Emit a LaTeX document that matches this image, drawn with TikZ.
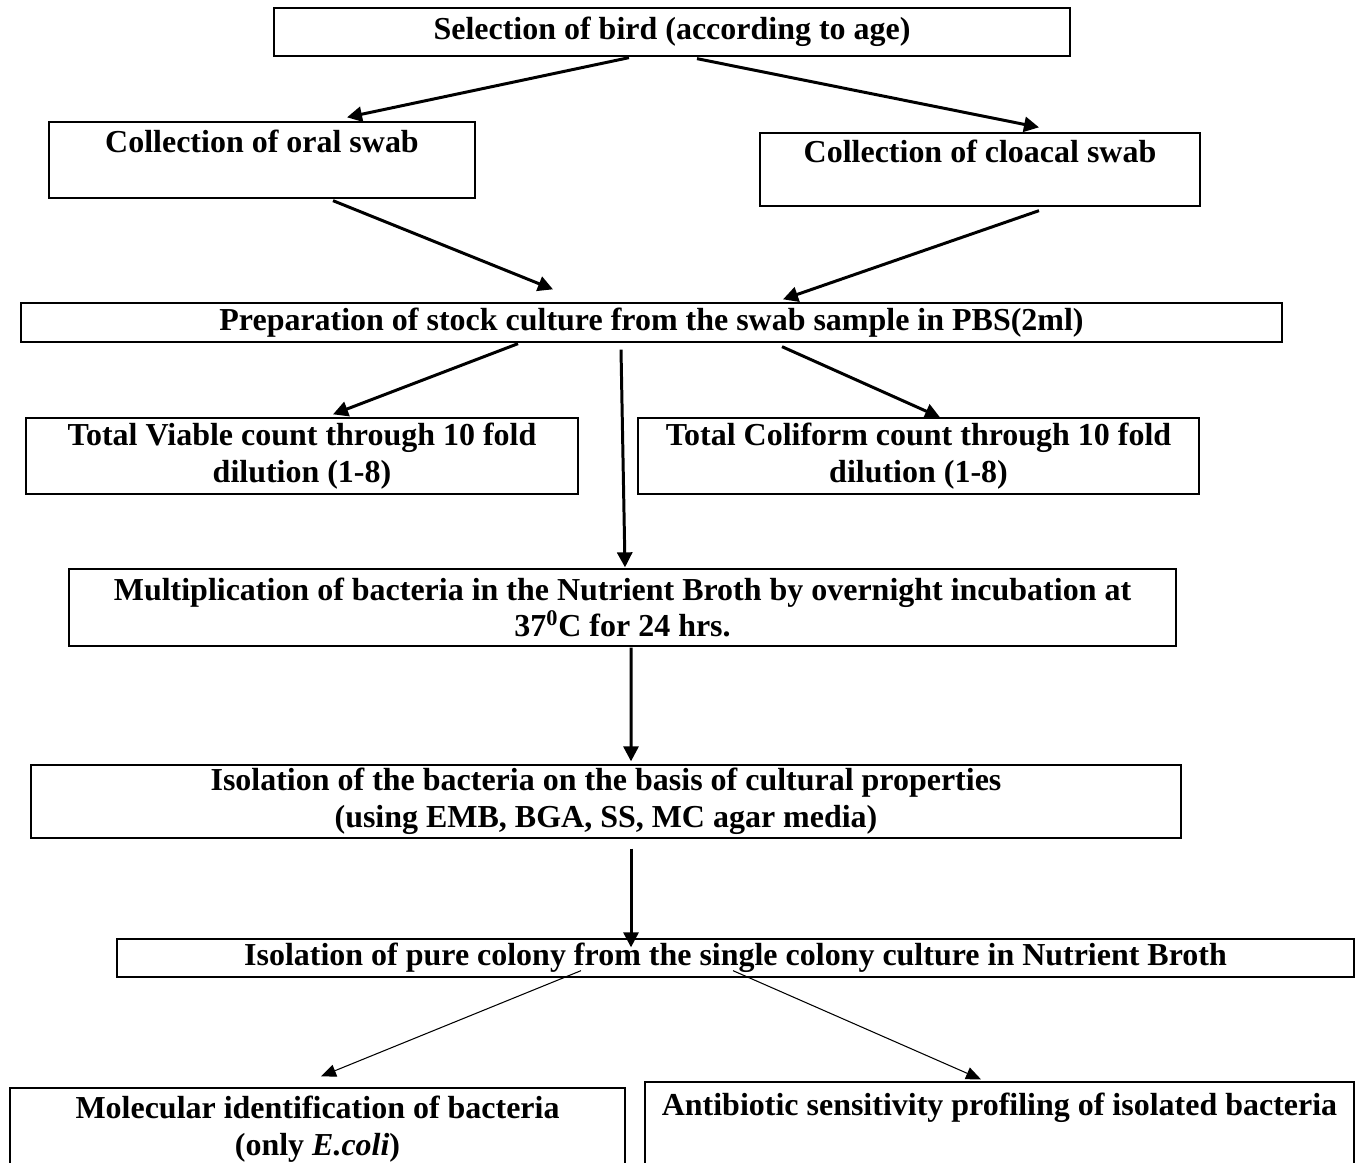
\documentclass[tikz,border=0pt]{standalone}
\usepackage{fontspec}
\setmainfont{Liberation Serif}
\usetikzlibrary{arrows.meta,calc}

\begin{document}
\begin{tikzpicture}[
		x=0.02cm, y=-0.02cm,
		% Estilo de las cajas: borde fino, texto en negrita centrado
		myBox/.style={draw, line width=0.75pt, inner sep=0pt, align=center,
			font=\fontsize{18.2}{21}\selectfont\bfseries},
		% Flechas gruesas y finas con punta triangular
		myArrow/.style={line width=1.7pt, -{Triangle[length=0.3cm, width=0.3cm]}},
		myThinArrow/.style={line width=0.6pt, -{Triangle[length=0.3cm, width=0.25cm]}}
	]

	% Marco fijo del dibujo (las cajas de abajo quedan cortadas)
	\useasboundingbox (0,0) rectangle (1361,1162);

	% --- 1. Cajas ---
	% Coordenadas en pixeles de la figura original (y hacia abajo)

	\node[myBox, minimum width=15.92cm, minimum height=0.96cm] (Sel) at (672,32) {Selection of bird (according to age)};

	\node[myBox, minimum width=8.52cm, minimum height=1.52cm] (Oral) at (262,160) {Collection of oral swab\\~};
	\node[myBox, minimum width=8.8cm, minimum height=1.46cm] (Cloacal) at (980,169.5) {Collection of cloacal swab\\~};

	\node[myBox, minimum width=25.22cm, minimum height=0.78cm] (Prep) at (651.5,322.5) {Preparation of stock culture from the swab sample in PBS(2ml)};

	\node[myBox, minimum width=11.04cm, minimum height=1.52cm] (TVC) at (302,456) {Total Viable count through 10 fold\\dilution (1-8)};
	\node[myBox, minimum width=11.22cm, minimum height=1.52cm] (TCC) at (918.5,456) {Total Coliform count through 10 fold\\dilution (1-8)};

	\node[myBox, minimum width=22.14cm, minimum height=1.54cm] (Mult) at (622.5,607.5) {Multiplication of bacteria in the Nutrient Broth by overnight incubation at\\37\textsuperscript{0}C for 24 hrs.};

	\node[myBox, minimum width=23cm, minimum height=1.46cm] (IsoB) at (606,801.5) {Isolation of the bacteria on the basis of cultural properties\\(using EMB, BGA, SS, MC agar media)};

	\node[myBox, minimum width=24.74cm, minimum height=0.76cm] (Pure) at (735.5,958) {Isolation of pure colony from the single colony culture in Nutrient Broth};

	\node[myBox, minimum width=12.3cm, minimum height=2.24cm] (Mol) at (317.5,1144) {Molecular identification of bacteria\\(only \textit{E.coli})\\~};
	\node[myBox, minimum width=14.18cm, minimum height=2.36cm] (Anti) at (999.5,1141) {Antibiotic sensitivity profiling of isolated bacteria\\~\\~};

	% --- 2. Flechas gruesas ---
	\draw[myArrow] ($(Sel.south)+(-43,1)$) -- ($(Oral.north)+(85,-4)$);
	\draw[myArrow] ($(Sel.south)+(25,2)$) -- ($(Cloacal.north)+(59,-5)$);

	\draw[myArrow] ($(Oral.south)+(71,2)$) -- ($(Prep.north)+(-98.5,-13)$);
	\draw[myArrow] ($(Cloacal.south)+(59,4)$) -- ($(Prep.north)+(131.5,-3)$);

	\draw[myArrow] ($(Prep.south)+(-133.5,1)$) -- ($(TVC.north)+(31,-3)$);
	\draw[myArrow] ($(Prep.south)+(-30.5,7)$) -- ($(Mult.north)+(2.5,-1)$);
	\draw[myArrow] ($(Prep.south)+(130.5,4)$) -- ($(TCC.north)+(21.5,0)$);

	\draw[myArrow] ($(Mult.south)+(8.5,1)$) -- ($(IsoB.north)+(25,-3)$);
	\draw[myArrow] ($(IsoB.south)+(25,10)$) -- ($(Pure.north)+(-104.5,9)$);

	% --- 3. Flechas finas ---
	\draw[myThinArrow] ($(Pure.south)+(-154.5,-7)$) -- ($(Mol.north)+(3.5,-11)$);
	\draw[myThinArrow] ($(Pure.south)+(-2.5,-7)$) -- ($(Anti.north)+(-18.5,-2)$);

\end{tikzpicture}
\end{document}
